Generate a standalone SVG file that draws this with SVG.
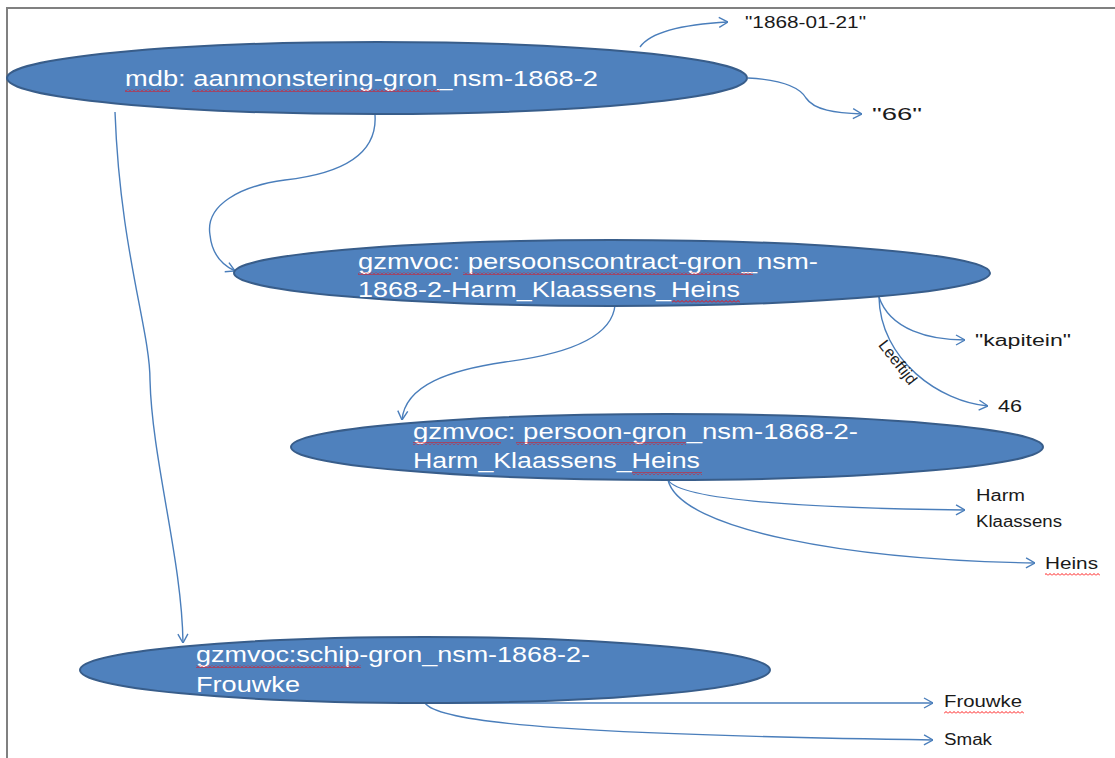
<svg xmlns="http://www.w3.org/2000/svg" width="1115" height="758" viewBox="0 0 1115 758">
<style>
.node{fill:#4F81BD;stroke:#385D8A;stroke-width:2}
.nt{font-family:"Liberation Sans",Arial,sans-serif;font-size:22px;fill:#FFFFFF}
.lab{font-family:"Liberation Sans",Arial,sans-serif;font-size:16px;fill:#1A1A1A}
.edge{fill:none;stroke:#4A7EBB;stroke-width:1.4;marker-end:url(#arr)}
.sq{fill:url(#wave)}
</style>
<defs>
<marker id="arr" viewBox="0 0 10 12" refX="10" refY="6" markerWidth="10" markerHeight="12" markerUnits="userSpaceOnUse" orient="auto">
<path d="M1,1 L10,6 L1,11" fill="none" stroke="#4A7EBB" stroke-width="1.4"/>
</marker>
<pattern id="wave" width="4" height="3" patternUnits="userSpaceOnUse">
<path d="M0,2.5 L2,0.5 L4,2.5" fill="none" stroke="#FF0000" stroke-width="0.9"/>
</pattern>
</defs>
<rect width="1115" height="758" fill="#FFFFFF"/>
<path d="M7,758 L7,8 L1115,8" fill="none" stroke="#808080" stroke-width="2"/>
<g id="connectors">
<path class="edge" d="M640,47 C652,30 690,24 728,22"/>
<path class="edge" d="M748,78 C785,80 800,88 806,98 C814,110 835,113 862,114"/>
<path class="edge" d="M375,115 C378,160 330,175 285,180 C240,186 205,205 210,235 C212,255 222,265 235,271"/>
<path class="edge" d="M115,112 C120,250 150,330 150,380 C152,460 182,560 183,643"/>
<path class="edge" d="M615,305 C612,340 560,355 505,362 C450,370 405,385 402,420"/>
<path class="edge" d="M879,297 C890,330 930,340 965,340"/>
<path class="edge" d="M879,297 C880,360 940,402 988,406"/>
<path class="edge" d="M668,480 C680,500 800,508 965,510"/>
<path class="edge" d="M668,480 C680,530 850,560 1035,563"/>
<path class="edge" d="M425,703 C520,704 700,703 933,703"/>
<path class="edge" d="M425,703 C440,725 600,735 933,740"/>
<text class="lab" font-size="13" transform="translate(897,363) rotate(52)" text-anchor="middle" dominant-baseline="middle">Leeftijd</text>
</g>
<g id="n1">
<ellipse class="node" cx="377" cy="78" rx="370" ry="36"/>
<text class="nt" x="125" y="86" textLength="473" lengthAdjust="spacingAndGlyphs">mdb: aanmonstering-gron_nsm-1868-2</text>
<rect class="sq" x="125" y="89" width="45" height="3"/>
<rect class="sq" x="192" y="89" width="248" height="3"/>
</g>
<g id="n2">
<ellipse class="node" cx="612" cy="273" rx="378" ry="33"/>
<text class="nt" x="358" y="269" textLength="460" lengthAdjust="spacingAndGlyphs">gzmvoc: persoonscontract-gron_nsm-</text>
<text class="nt" x="358" y="297" textLength="382" lengthAdjust="spacingAndGlyphs">1868-2-Harm_Klaassens_Heins</text>
<rect class="sq" x="358" y="272" width="93" height="3"/>
<rect class="sq" x="463" y="272" width="290" height="3"/>
<rect class="sq" x="672" y="300" width="68" height="3"/>
</g>
<g id="n3">
<ellipse class="node" cx="667" cy="447" rx="376" ry="33"/>
<text class="nt" x="413" y="439" textLength="445" lengthAdjust="spacingAndGlyphs">gzmvoc: persoon-gron_nsm-1868-2-</text>
<text class="nt" x="413" y="468" textLength="287" lengthAdjust="spacingAndGlyphs">Harm_Klaassens_Heins</text>
<rect class="sq" x="413" y="442" width="88" height="3"/>
<rect class="sq" x="516" y="442" width="170" height="3"/>
<rect class="sq" x="632" y="472" width="70" height="3"/>
</g>
<g id="n4">
<ellipse class="node" cx="425" cy="670" rx="345" ry="33"/>
<text class="nt" x="196" y="662" textLength="394" lengthAdjust="spacingAndGlyphs">gzmvoc:schip-gron_nsm-1868-2-</text>
<text class="nt" x="196" y="692" textLength="104" lengthAdjust="spacingAndGlyphs">Frouwke</text>
<rect class="sq" x="196" y="665" width="165" height="3"/>
</g>
<g id="l1"><text class="lab" x="745" y="28" textLength="121" lengthAdjust="spacingAndGlyphs">"1868-01-21"</text></g>
<g id="l2"><text class="lab" x="872" y="120" font-size="27" textLength="50" lengthAdjust="spacingAndGlyphs">"66"</text></g>
<g id="l3"><text class="lab" x="975" y="346" textLength="96" lengthAdjust="spacingAndGlyphs">"kapitein"</text></g>
<g id="l4"><text class="lab" x="998" y="412" textLength="24" lengthAdjust="spacingAndGlyphs">46</text></g>
<g id="l5"><text class="lab" x="976" y="501" textLength="49" lengthAdjust="spacingAndGlyphs">Harm</text><text class="lab" x="976" y="527" textLength="86" lengthAdjust="spacingAndGlyphs">Klaassens</text></g>
<g id="l6"><text class="lab" x="1045" y="569" textLength="53" lengthAdjust="spacingAndGlyphs">Heins</text><rect class="sq" x="1045" y="573" width="55" height="3"/></g>
<g id="l7"><text class="lab" x="944" y="707" textLength="78" lengthAdjust="spacingAndGlyphs">Frouwke</text><rect class="sq" x="944" y="711" width="80" height="3"/></g>
<g id="l8"><text class="lab" x="944" y="745" textLength="48" lengthAdjust="spacingAndGlyphs">Smak</text></g>
</svg>
